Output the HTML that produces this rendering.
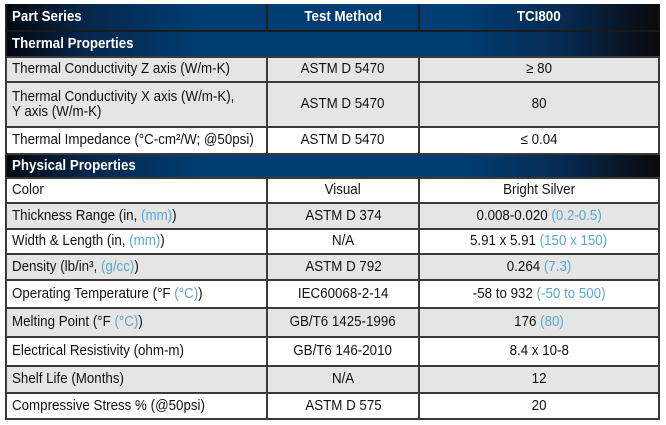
<!DOCTYPE html>
<html><head><meta charset="utf-8"><style>
body{margin:0;width:666px;height:425px;background:#fff;position:relative;overflow:hidden;font-family:"Liberation Sans",sans-serif;}
.r{position:absolute;left:5px;width:655px;box-sizing:border-box;}
.c{position:absolute;top:0;bottom:0;box-sizing:border-box;border-left:2px solid #3a3a3a;display:flex;align-items:center;font-size:14.5px;color:#111;line-height:15px;}
.c > span{display:inline-block;transform:scaleX(0.92);white-space:nowrap;}
.c1{left:0;width:261px;padding-left:5px;}
.c1 > span{transform-origin:left center;}
.c2{left:261px;width:152px;justify-content:center;}
.c3{left:413px;width:242px;justify-content:center;border-right:2px solid #3a3a3a;}
.g{background:#e5e5e5;}
.w{background:#fff;}
.band{background:linear-gradient(to right,#02070f 0%,#06264a 12%,#003d73 30%,#003d73 70%,#062a52 85%,#0a0a0a 100%);}
.band .c{color:#fff;font-weight:bold;border-left-color:#222;}
.line{position:absolute;left:5px;width:655px;height:2px;background:#3a3a3a;}
.b{color:#5aa7cf;}
</style></head><body>
<div class="r band" style="top:4px;height:27px;">
 <div class="c c1"><span>Part Series</span></div>
 <div class="c c2"><span>Test Method</span></div>
 <div class="c c3" style="border-right-color:#111"><span>TCI800</span></div>
</div>
<div class="line" style="top:30px;background:#1a1a1a"></div>
<div class="r band" style="top:32px;height:25px;">
 <div class="c c1"><span>Thermal Properties</span></div>
</div>
<div class="r g" style="top:57px;height:25px;">
 <div class="c c1"><span>Thermal Conductivity Z axis (W/m-K)</span></div>
 <div class="c c2"><span>ASTM D 5470</span></div>
 <div class="c c3"><span>≥ 80</span></div>
</div>
<div class="r g" style="top:82px;height:45px;">
 <div class="c c1"><span>Thermal Conductivity X axis (W/m-K),<br>Y axis (W/m-K)</span></div>
 <div class="c c2"><span>ASTM D 5470</span></div>
 <div class="c c3"><span>80</span></div>
</div>
<div class="r w" style="top:127px;height:27px;">
 <div class="c c1"><span>Thermal Impedance (°C-cm²/W; @50psi)</span></div>
 <div class="c c2"><span>ASTM D 5470</span></div>
 <div class="c c3"><span>≤ 0.04</span></div>
</div>
<div class="r band" style="top:154px;height:24px;">
 <div class="c c1"><span>Physical Properties</span></div>
</div>
<div class="r w" style="top:178px;height:25px;">
 <div class="c c1"><span>Color</span></div>
 <div class="c c2"><span>Visual</span></div>
 <div class="c c3"><span>Bright Silver</span></div>
</div>
<div class="r g" style="top:203px;height:26px;">
 <div class="c c1"><span>Thickness Range (in, <span class="b">(mm)</span>)</span></div>
 <div class="c c2"><span>ASTM D 374</span></div>
 <div class="c c3"><span>0.008-0.020 <span class="b">(0.2-0.5)</span></span></div>
</div>
<div class="r w" style="top:229px;height:25px;">
 <div class="c c1"><span>Width &amp; Length (in, <span class="b">(mm)</span>)</span></div>
 <div class="c c2"><span>N/A</span></div>
 <div class="c c3"><span>5.91 x 5.91 <span class="b">(150 x 150)</span></span></div>
</div>
<div class="r g" style="top:254px;height:26px;">
 <div class="c c1"><span>Density (lb/in³, <span class="b">(g/cc)</span>)</span></div>
 <div class="c c2"><span>ASTM D 792</span></div>
 <div class="c c3"><span>0.264 <span class="b">(7.3)</span></span></div>
</div>
<div class="r w" style="top:280px;height:28px;">
 <div class="c c1"><span>Operating Temperature (°F <span class="b">(°C)</span>)</span></div>
 <div class="c c2"><span>IEC60068-2-14</span></div>
 <div class="c c3"><span>-58 to 932 <span class="b">(-50 to 500)</span></span></div>
</div>
<div class="r g" style="top:308px;height:29px;">
 <div class="c c1"><span>Melting Point (°F <span class="b">(°C)</span>)</span></div>
 <div class="c c2"><span>GB/T6 1425-1996</span></div>
 <div class="c c3"><span>176 <span class="b">(80)</span></span></div>
</div>
<div class="r w" style="top:337px;height:29px;">
 <div class="c c1"><span>Electrical Resistivity (ohm-m)</span></div>
 <div class="c c2"><span>GB/T6 146-2010</span></div>
 <div class="c c3"><span>8.4 x 10-8</span></div>
</div>
<div class="r g" style="top:366px;height:27px;">
 <div class="c c1"><span>Shelf Life (Months)</span></div>
 <div class="c c2"><span>N/A</span></div>
 <div class="c c3"><span>12</span></div>
</div>
<div class="r w" style="top:393px;height:26px;">
 <div class="c c1"><span>Compressive Stress % (@50psi)</span></div>
 <div class="c c2"><span>ASTM D 575</span></div>
 <div class="c c3"><span>20</span></div>
</div>
<div class="line" style="top:56px"></div>
<div class="line" style="top:81px"></div>
<div class="line" style="top:126px"></div>
<div class="line" style="top:153px"></div>
<div class="line" style="top:177px"></div>
<div class="line" style="top:202px"></div>
<div class="line" style="top:228px"></div>
<div class="line" style="top:253px"></div>
<div class="line" style="top:279px"></div>
<div class="line" style="top:307px"></div>
<div class="line" style="top:336px"></div>
<div class="line" style="top:365px"></div>
<div class="line" style="top:392px"></div>
<div class="line" style="top:418px"></div>
</body></html>
